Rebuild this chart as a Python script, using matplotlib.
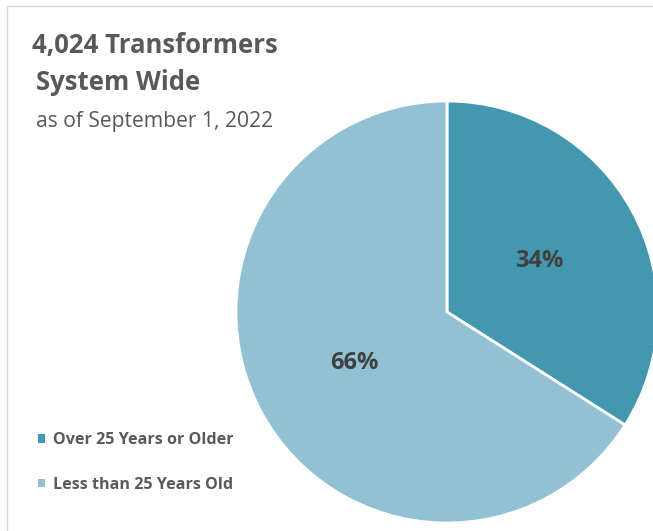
import matplotlib.pyplot as plt

categories = ['Over 25 Years or Older', 'Less than 25 Years Old']
shares = [34, 66]
colors = ['#4397AF', '#93C1D4']

W, H = 653, 531
fig = plt.figure(figsize=(W / 100, H / 100), dpi=100)
ax = fig.add_axes([0, 0, 1, 1])
ax.set_xlim(0, W)
ax.set_ylim(0, H)
ax.set_aspect('equal')
ax.axis('off')

font = 'Open Sans'

# chart area border (top and left edges visible)
ax.plot([7, 7, W + 5], [0, H - 6, H - 6], color='#D9D9D9', lw=1, clip_on=False)

wedges, _, autotexts = ax.pie(
    shares, colors=colors, startangle=90, counterclock=False,
    center=(447, H - 312), radius=211, autopct='%d%%', pctdistance=0.5,
    wedgeprops=dict(edgecolor='white', linewidth=2),
    textprops=dict(fontsize=17, fontweight='bold', color='#404040', family=font))
ax.set_xlim(0, W)
ax.set_ylim(0, H)

ax.text(32, H - 45, '4,024 Transformers', fontsize=18.5, fontweight='bold',
        color='#595959', family=font, va='center')
ax.text(36, H - 83, 'System Wide', fontsize=18.5, fontweight='bold',
        color='#595959', family=font, va='center')
ax.text(36, H - 121, 'as of September 1, 2022', fontsize=15.2,
        color='#595959', family=font, va='center')

leg = ax.legend(wedges, categories, loc='upper left', bbox_to_anchor=(23, H - 418),
                bbox_transform=ax.transData, frameon=False, handlelength=0.45,
                handleheight=0.45, handletextpad=0.5, labelspacing=1.75,
                prop=dict(family=font, size=11.6, weight='bold'))
for t in leg.get_texts():
    t.set_color('#595959')
for h in leg.legend_handles:
    h.set_edgecolor('none')

fig.savefig('out.png', dpi=100)
